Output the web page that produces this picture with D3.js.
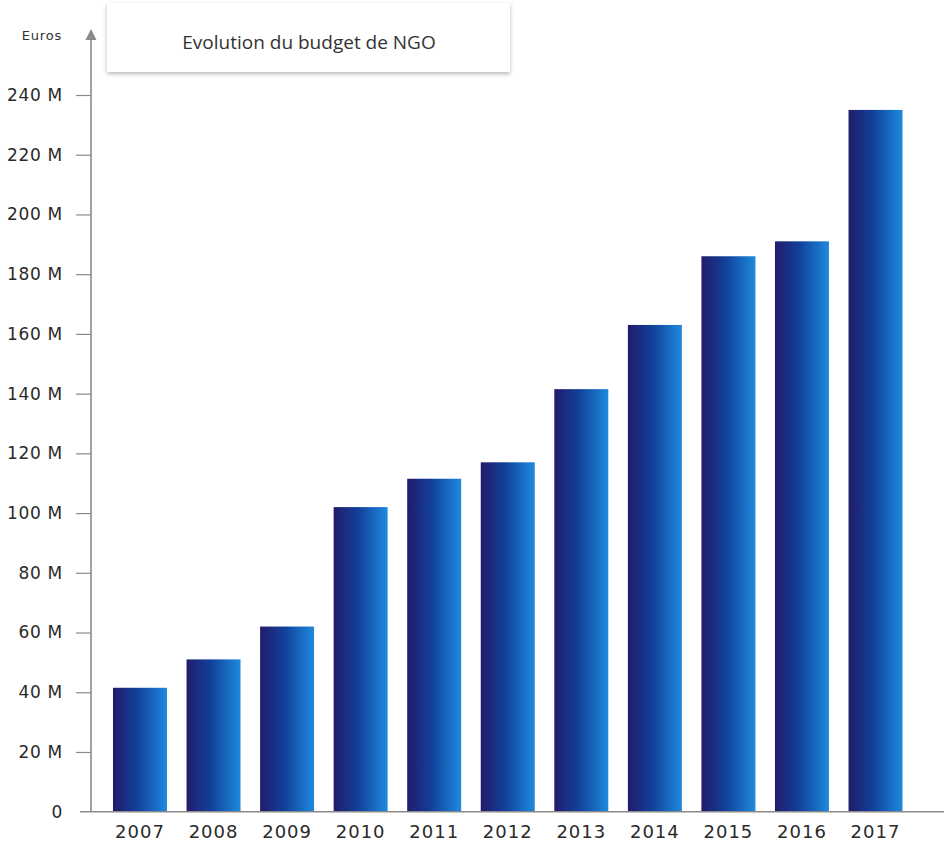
<!DOCTYPE html>
<html>
<head>
<meta charset="utf-8">
<script src="https://cdn.jsdelivr.net/npm/d3@7"></script>
<style>
  html, body { margin: 0; padding: 0; background: #fff; }
  svg { display: block; }
</style>
</head>
<body>
<svg id="chart" width="944" height="844"></svg>
<script>
const years = ["2007","2008","2009","2010","2011","2012","2013","2014","2015","2016","2017"];
const budgetMillions = [41.5, 51, 62, 102, 111.5, 117, 141.5, 163, 186, 191, 235];
const tickValues = [0, 20, 40, 60, 80, 100, 120, 140, 160, 180, 200, 220, 240];
const titleText = "Evolution du budget de NGO";
const unitLabel = "Euros";

const svg = d3.select("#chart");
const defs = svg.append("defs");

const grad = defs.append("linearGradient")
  .attr("id", "barGrad").attr("x1", "0%").attr("x2", "100%").attr("y1", "0%").attr("y2", "0%");
grad.append("stop").attr("offset", "0%").attr("stop-color", "#221c6a");
grad.append("stop").attr("offset", "45%").attr("stop-color", "#11409a");
grad.append("stop").attr("offset", "100%").attr("stop-color", "#1e8ade");

const shadow = defs.append("filter").attr("id", "shadow")
  .attr("x", "-10%").attr("y", "-20%").attr("width", "120%").attr("height", "150%");
shadow.append("feDropShadow").attr("dx", 0).attr("dy", 2).attr("stdDeviation", 2.2)
  .attr("flood-color", "#000").attr("flood-opacity", 0.28);

const axisX = 91;
const y = d3.scaleLinear().domain([0, 240]).range([811.7, 95]);
const x = d3.scaleBand().domain(years).range([103.2, 912.3])
  .paddingInner(0.266).paddingOuter(0.133);

const font = "'DejaVu Sans', sans-serif";

// bars
svg.append("g").selectAll("rect").data(years).join("rect")
  .attr("x", d => x(d))
  .attr("width", x.bandwidth())
  .attr("y", (d, i) => y(budgetMillions[i]))
  .attr("height", (d, i) => y(0) - y(budgetMillions[i]))
  .attr("fill", "url(#barGrad)");

// y axis
const yAxis = d3.axisLeft(y).tickValues(tickValues)
  .tickFormat(d => d === 0 ? "0" : d + " M")
  .tickSize(15).tickPadding(13);
const gy = svg.append("g").attr("transform", `translate(${axisX},0)`).call(yAxis);
gy.select(".domain").remove();
gy.selectAll(".tick line").attr("stroke", "#8a8a8a").attr("stroke-width", 1.2);
gy.selectAll(".tick text")
  .attr("font-family", font).attr("font-size", 17)
  .attr("letter-spacing", "0.7px")
  .attr("fill", "#2a2a2a");
gy.selectAll(".tick").filter(d => d === 0).select("line").remove();

// vertical axis line + arrow
svg.append("line")
  .attr("x1", axisX).attr("x2", axisX)
  .attr("y1", 36).attr("y2", y(0))
  .attr("stroke", "#8a8a8a").attr("stroke-width", 1.6);
svg.append("path")
  .attr("d", `M${axisX - 5.5},40 L${axisX},29 L${axisX + 5.5},40 Z`)
  .attr("fill", "#8a8a8a");

// baseline
svg.append("line")
  .attr("x1", 80).attr("x2", 944)
  .attr("y1", y(0)).attr("y2", y(0))
  .attr("stroke", "#8a8a8a").attr("stroke-width", 1.6);

// x axis labels
const xAxis = d3.axisBottom(x).tickSize(0).tickPadding(14);
const gx = svg.append("g").attr("transform", `translate(0,${y(0)})`).call(xAxis);
gx.select(".domain").remove();
gx.selectAll(".tick text")
  .attr("font-family", font).attr("font-size", 18)
  .attr("letter-spacing", "1px")
  .attr("fill", "#2a2a2a");

// unit label
svg.append("text")
  .attr("x", 62).attr("y", 40)
  .attr("text-anchor", "end")
  .attr("font-family", font).attr("font-size", 13)
  .attr("letter-spacing", "0.8px")
  .attr("fill", "#333")
  .text(unitLabel);

// title box
svg.append("rect")
  .attr("x", 107).attr("y", 3).attr("width", 403).attr("height", 69)
  .attr("fill", "#fff").attr("filter", "url(#shadow)");
svg.append("text")
  .attr("x", 309).attr("y", 49)
  .attr("text-anchor", "middle")
  .attr("font-family", "'Open Sans', sans-serif").attr("font-size", 19)
  .attr("fill", "#333")
  .text(titleText);
</script>
</body>
</html>
